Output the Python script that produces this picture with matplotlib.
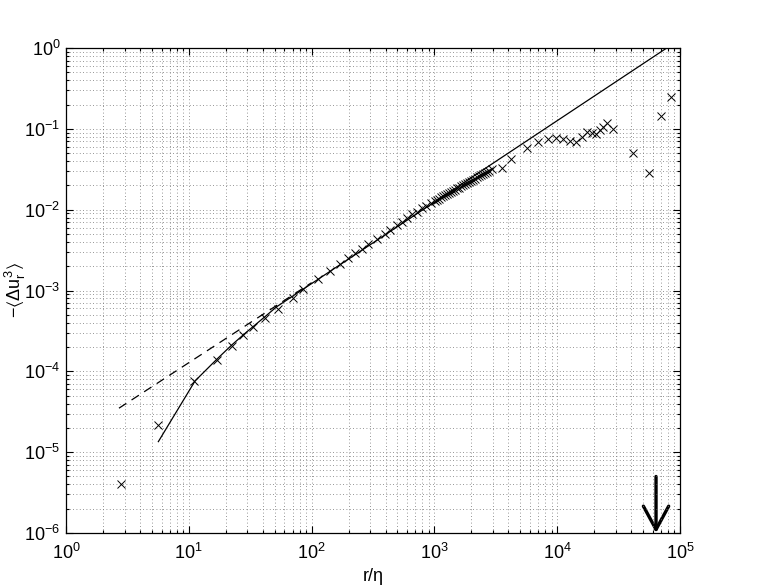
import numpy as np
import matplotlib
matplotlib.use("Agg")
import matplotlib.pyplot as plt
from matplotlib.ticker import LogLocator
from matplotlib.patches import FancyArrowPatch

plt.rcParams["font.family"] = ["Liberation Sans", "DejaVu Sans"]
plt.rcParams["mathtext.fontset"] = "custom"
plt.rcParams["mathtext.rm"] = "Liberation Sans"
plt.rcParams["mathtext.it"] = "Liberation Sans"
plt.rcParams["mathtext.bf"] = "Liberation Sans:bold"
plt.rcParams["mathtext.fallback"] = "stix"

# measured third-order structure function (markers)
r_meas = [2.79, 5.58, 11.1, 16.9, 22.4, 27.8, 33.5, 41.7, 53.6, 71, 85.6,
          113, 141, 170, 199, 226, 256, 290, 343, 396, 435, 493, 542, 595,
          653, 718, 789, 855, 934, 1011, 1050, 1090, 1130, 1175, 1220, 1267,
          1315, 1365, 1418, 1472, 1528, 1585, 1646, 1710, 1775, 1841, 1912,
          1986, 2062, 2141, 2222, 2307, 2396, 2488, 2583, 2680, 2800, 2930,
          3530, 4200, 5650, 7020, 8460, 9780, 11090, 12700, 14200, 15800,
          17600, 19100, 20600, 22300, 23700, 25300, 28300, 41700, 56200,
          70000, 84500]
s3_meas = [4.03e-6, 2.17e-5, 7.6e-5, 1.38e-4, 2.07e-4, 2.81e-4, 3.5e-4,
           4.53e-4, 5.85e-4, 8.14e-4, 1.03e-3, 1.38e-3, 1.76e-3, 2.13e-3,
           2.5e-3, 2.88e-3, 3.26e-3, 3.72e-3, 4.3e-3, 4.96e-3, 5.6e-3,
           6.46e-3, 7.1e-3, 7.96e-3, 8.77e-3, 9.44e-3, 0.0104, 0.0112, 0.012,
           0.0129, 0.0133, 0.0137, 0.0142, 0.0146, 0.0151, 0.0156, 0.0161,
           0.0167, 0.0172, 0.0177, 0.0183, 0.0188, 0.0195, 0.0201, 0.0207,
           0.0214, 0.0221, 0.0228, 0.0235, 0.0242, 0.025, 0.0258, 0.0266,
           0.0275, 0.0284, 0.0293, 0.0304, 0.0316, 0.0325, 0.0423, 0.0585,
           0.0693, 0.0748, 0.0777, 0.0742, 0.0707, 0.0681, 0.080, 0.0906,
           0.088, 0.0863, 0.0968, 0.106, 0.119, 0.0986, 0.0498, 0.0282,
           0.145, 0.25]

# model curve (solid)
r_model = [5.65, 11.24, 16.9, 22.4, 28.7, 41.7, 52, 78000]
s3_model = [1.35e-5, 7.6e-5, 1.41e-4, 2.12e-4, 2.95e-4, 4.74e-4, 6.3e-4, 1.0]

# inertial-range 4/5 law (dashed)
r_45 = [2.7, 100]
s3_45 = [3.5e-5, 1.25e-3]

# arrow marking the integral scale
r_arrow = 63800
arrow_top = 5e-6
arrow_tip = 1e-6

fig = plt.figure(figsize=(7.61, 5.88), dpi=100)
ax = fig.add_axes([66 / 761, 1 - 533 / 588, 614 / 761, 485 / 588])

ax.plot(r_45, s3_45, color="k", lw=0.9, dashes=(7, 5))
ax.plot(r_model, s3_model, color="k", lw=0.9)
ax.plot(r_meas, s3_meas, "x", color="k", ms=6, mew=0.7)

arrow = FancyArrowPatch((r_arrow, arrow_top), (r_arrow, arrow_tip),
                        arrowstyle="->,head_length=1.2,head_width=0.65",
                        lw=2.4, color="k", shrinkA=0, shrinkB=0,
                        mutation_scale=14, clip_on=False)
ax.add_patch(arrow)

ax.set_xscale("log")
ax.set_yscale("log")
ax.set_xlim(1, 1e5)
ax.set_ylim(1e-6, 1)

ax.xaxis.set_major_locator(LogLocator(base=10, numticks=20))
ax.yaxis.set_major_locator(LogLocator(base=10, numticks=20))
ax.xaxis.set_minor_locator(LogLocator(base=10, subs=np.arange(2, 10), numticks=100))
ax.yaxis.set_minor_locator(LogLocator(base=10, subs=np.arange(2, 10), numticks=100))

ax.grid(True, which="both", color="0.45", linestyle=(0, (1, 3)), lw=0.6)
ax.tick_params(which="both", direction="in", top=True, right=True,
               labelsize=13, width=0.8)
ax.tick_params(which="major", length=5)
ax.tick_params(axis="x", which="major", pad=7)
ax.tick_params(axis="y", which="major", pad=4)
ax.tick_params(which="minor", length=2.5)
for sp in ax.spines.values():
    sp.set_linewidth(0.9)

ax.set_xlabel(r"r/η", fontsize=13, labelpad=4)
ax.set_ylabel(r"$-\langle\Delta u_r^3\rangle$", fontsize=13)
ax.yaxis.set_label_coords(-0.062, 0.5)

fig.savefig("out.png", dpi=100)
